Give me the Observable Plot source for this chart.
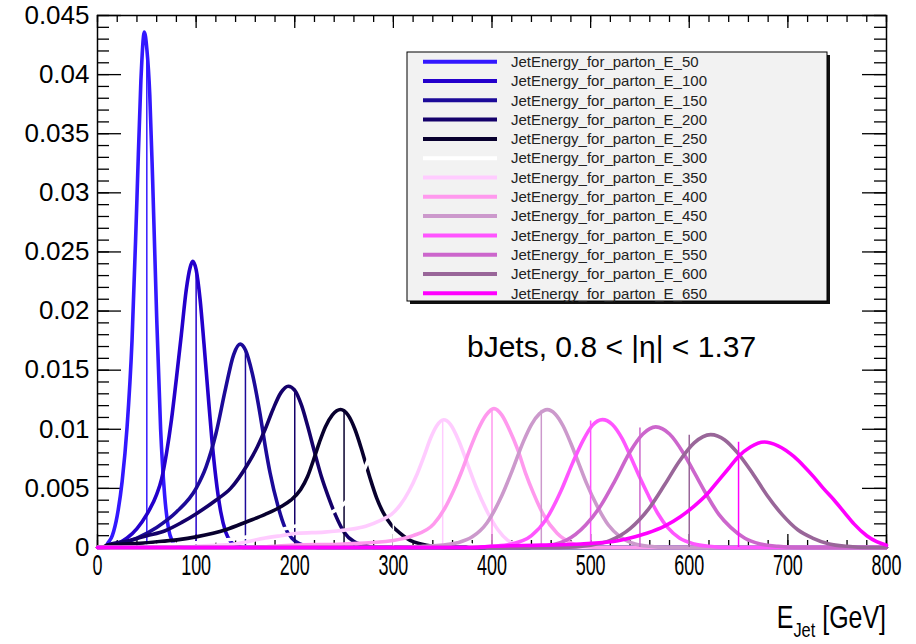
<!DOCTYPE html>
<html><head><meta charset="utf-8">
<script src="https://cdn.jsdelivr.net/npm/d3@7"></script>
<script src="https://cdn.jsdelivr.net/npm/@observablehq/plot@0.6"></script>
<style>
html,body{margin:0;padding:0;background:#fff;}
#wrap{position:relative;width:916px;height:644px;overflow:hidden;}
#wrap svg{display:block;}
</style></head><body>
<div id="wrap"></div>
<script>
// ---------- data ----------
const energies = [50,100,150,200,250,300,350,400,450,500,550,600,650];
const seriesNames = energies.map(e => "JetEnergy_for_parton_E_" + e);
const colors = ["#3318ff","#2400cc","#1c0a99","#14006a","#08002e","#ffffff","#ffccff","#ff99ee","#cc99cc","#ff55ff","#cc66cc","#996699","#ff00ff"];
// height reached by the thin vertical marker line at each parton energy
const lineTops = [0.0422,0.0235,0.0167,0.0134,0.0115,0.0104,0.0108,0.0117,0.0116,0.0107,0.0101,0.0095,0.0089];

const E50 = [[0,0],[8,0],[10,0.0003],[15,0.0010],[20,0.0027],[25,0.0056],[30,0.0102],[35,0.0175],[40,0.0295],[44,0.0395],[47.5,0.0436],[50,0.0422],[53,0.0383],[56,0.0308],[60,0.0195],[64,0.0100],[68,0.0045],[72,0.0016],[76,0.0005],[80,0.0001],[88,0],[800,0]];
const E100 = [[0,0],[12,0],[20,0.0003],[30,0.0008],[40,0.0016],[50,0.0028],[60,0.0045],[65,0.0058],[70,0.0080],[75,0.0108],[80,0.0143],[85,0.0180],[90,0.0218],[94,0.0237],[96.5,0.0242],[100,0.0235],[104,0.0210],[108,0.0172],[112,0.0131],[116,0.0091],[120,0.0059],[125,0.0030],[130,0.0013],[135,0.0005],[140,0.0002],[148,0],[800,0]];
const E150 = [[0,0],[10,0],[20,0.0002],[40,0.0008],[60,0.0017],[80,0.0030],[100,0.0050],[110,0.0068],[120,0.0096],[130,0.0135],[138,0.0163],[144.7,0.0172],[150,0.0167],[157,0.0147],[165,0.0112],[170,0.0086],[175,0.0063],[183,0.0035],[190,0.0017],[197,0.0008],[205,0.0003],[215,0.0001],[225,0],[800,0]];
const E200 = [[0,0],[5,0],[10,0.0002],[33,0.0006],[50,0.0010],[68,0.0014],[85,0.0021],[101,0.0029],[120,0.0040],[135,0.0050],[152,0.0070],[162,0.0085],[170,0.0100],[178,0.0117],[186,0.0131],[193.4,0.01364],[200,0.0133],[207,0.0120],[213,0.0103],[220,0.0081],[227,0.0060],[234,0.0043],[241,0.0028],[250,0.0013],[260,0.0005],[270,0.0002],[280,0],[800,0]];
const E250 = [[0,0],[5,0],[10,0.0002],[50,0.0004],[100,0.0009],[130,0.0015],[152,0.0022],[170,0.0028],[185,0.0034],[196,0.0040],[206,0.0049],[213,0.0060],[219,0.0074],[225,0.0089],[231,0.0102],[238,0.0112],[246.5,0.01167],[254,0.0112],[261,0.0100],[267,0.0085],[272,0.0071],[277,0.0057],[283,0.0042],[290,0.0029],[298,0.0019],[307,0.0012],[317,0.0006],[328,0.0003],[340,0.0001],[355,0],[800,0]];
const E300 = [[0,0],[40,0],[50,0.0001],[100,0.0004],[145,0.0008],[195,0.0017],[220,0.0022],[236,0.0029],[250,0.0037],[262,0.0050],[272,0.0069],[280,0.0085],[290,0.0100],[298,0.0105],[306,0.0101],[316,0.0087],[326,0.0066],[336,0.0044],[346,0.0026],[356,0.0014],[368,0.0006],[380,0.0002],[395,0],[800,0]];
const E350 = [[0,0],[90,0],[100,0.0001],[139,0.0003],[170,0.0008],[186,0.0010],[203,0.0012],[230,0.0013],[253,0.0015],[272,0.0018],[287,0.0023],[298,0.0028],[307,0.0036],[316,0.0048],[324,0.0062],[331,0.0077],[338,0.0093],[344,0.0103],[351,0.0108],[358,0.0104],[366,0.0091],[375,0.0071],[384,0.0051],[396,0.0029],[406,0.0015],[416,0.0006],[428,0.0002],[440,0],[800,0]];
const E400 = [[0,0],[150,0],[200,0.0002],[250,0.0003],[300,0.0006],[320,0.0010],[341,0.0020],[352,0.0033],[361,0.0048],[370,0.0066],[378,0.0084],[386,0.0100],[394,0.0112],[402,0.01175],[410,0.0112],[418,0.0099],[426,0.0083],[434,0.0063],[442,0.0046],[452,0.0028],[466,0.0012],[480,0.0004],[495,0.0001],[510,0],[800,0]];
const E450 = [[0,0],[300,0],[330,0.0001],[350,0.0002],[365,0.0004],[380,0.0009],[395,0.0021],[410,0.0044],[420,0.0064],[432,0.0090],[440,0.0104],[448,0.0113],[456,0.01166],[464,0.0113],[472,0.0103],[480,0.0088],[488,0.0071],[496,0.0054],[506,0.0036],[518,0.0019],[530,0.0009],[545,0.0003],[560,0.0001],[575,0],[800,0]];
const E500 = [[0,0],[380,0],[400,0.0001],[420,0.0003],[440,0.0010],[455,0.0024],[470,0.0048],[482,0.0072],[492,0.0090],[502,0.01035],[512,0.01082],[522,0.0104],[532,0.0092],[541,0.0076],[550,0.0059],[558,0.0045],[568,0.0029],[578,0.0017],[590,0.0008],[605,0.0003],[620,0.0001],[640,0],[800,0]];
const E550 = [[0,0],[420,0],[450,0.0001],[475,0.0006],[495,0.0019],[510,0.0035],[525,0.0057],[540,0.0081],[553,0.0096],[566,0.0102],[580,0.0096],[594,0.0080],[606,0.0062],[618,0.0044],[630,0.0028],[642,0.0017],[656,0.0008],[672,0.0003],[690,0.0001],[710,0],[800,0]];
const E600 = [[0,0],[470,0],[500,0.0002],[520,0.0006],[540,0.0016],[560,0.0034],[575,0.0053],[590,0.0073],[605,0.00885],[621.7,0.00955],[636,0.0091],[649,0.0080],[664,0.0063],[679,0.0044],[694,0.0028],[710,0.0015],[725,0.0008],[742,0.0003],[760,0.0001],[780,0],[800,0]];
const E650 = [[0,0],[380,0],[400,0.0001],[450,0.0002],[490,0.0003],[523,0.0005],[540,0.0008],[557,0.0012],[575,0.0018],[591,0.0026],[605,0.0035],[618,0.0045],[630,0.0057],[641,0.0068],[650,0.0077],[662,0.0085],[676,0.00892],[690,0.0086],[706,0.0077],[716,0.0069],[726,0.0060],[736,0.0050],[747,0.0040],[757,0.0030],[767,0.0020],[780,0.0010],[790,0.0005],[800,0.0002]];
const curves = [E50,E100,E150,E200,E250,E300,E350,E400,E450,E500,E550,E600,E650];

const xTicks = [0,100,200,300,400,500,600,700,800];
const yTicks = [0,0.005,0.01,0.015,0.02,0.025,0.03,0.035,0.04,0.045];
const xMinor = d3.range(0, 41).map(i => i * 20);
const yMinor = d3.range(0, 46).map(i => i / 1000);
const annotation = "bJets, 0.8 < |η| < 1.37";

// ---------- layout ----------
const FONT = "'Liberation Sans', Arial, Helvetica, sans-serif";
const W = 916, H = 644, mL = 97, mR = 30, mT = 15, mB = 97;
const PW = W - mL - mR, PH = H - mT - mB;

const marks = [
  Plot.frame({stroke: "#000", strokeWidth: 1.5}),
  // inward ticks, all four sides
  Plot.tickY(yMinor, {y: d => d, insetRight: PW - 12, stroke: "#000", strokeWidth: 1.3}),
  Plot.tickY(yTicks, {y: d => d, insetRight: PW - 24, stroke: "#000", strokeWidth: 1.3}),
  Plot.tickY(yMinor, {y: d => d, insetLeft: PW - 12, stroke: "#000", strokeWidth: 1.3}),
  Plot.tickY(yTicks, {y: d => d, insetLeft: PW - 24, stroke: "#000", strokeWidth: 1.3}),
  Plot.tickX(xMinor, {x: d => d, insetTop: PH - 7, stroke: "#000", strokeWidth: 1.3}),
  Plot.tickX(xTicks, {x: d => d, insetTop: PH - 13, stroke: "#000", strokeWidth: 1.3}),
  Plot.tickX(xMinor, {x: d => d, insetBottom: PH - 7, stroke: "#000", strokeWidth: 1.3}),
  Plot.tickX(xTicks, {x: d => d, insetBottom: PH - 13, stroke: "#000", strokeWidth: 1.3}),
  Plot.axisY(yTicks, {tickSize: 0, tickPadding: 8, fontSize: 26, tickFormat: d => String(d), label: null}),
  Plot.axisX(xTicks, {tickSize: 0, tickPadding: 7, fontSize: 29, tickFormat: d => String(d), label: null})
];
curves.forEach((pts, i) => {
  marks.push(Plot.line(pts, {x: d => d[0], y: d => d[1], stroke: colors[i], strokeWidth: 3.6, curve: "monotone-x"}));
  marks.push(Plot.ruleX([{e: energies[i], top: lineTops[i]}], {x: "e", y1: () => 0, y2: "top", stroke: colors[i], strokeWidth: 1.5}));
});

const chart = Plot.plot({
  width: W, height: H,
  marginLeft: mL, marginRight: mR, marginTop: mT, marginBottom: mB,
  x: {domain: [0, 800]},
  y: {domain: [0, 0.045]},
  style: {fontFamily: FONT, color: "#000", background: "#fff", overflow: "visible"},
  marks
});
const wrap = document.getElementById("wrap");
wrap.appendChild(chart);

const svg = d3.select(chart);
// condensed x tick labels as in the reference
svg.selectAll('g[aria-label="x-axis tick label"] text').each(function() {
  const t = this.getAttribute("transform") || "";
  this.setAttribute("transform", t + " scale(0.62,1)");
});

// annotation
svg.append("text")
  .attr("x", 467).attr("y", 357)
  .attr("text-anchor", "start")
  .attr("font-family", FONT).attr("font-size", 30).attr("fill", "#000")
  .text(annotation);

// x axis title E_Jet [GeV]
const xt = svg.append("text")
  .attr("transform", `translate(${W - mR},628) scale(0.78,1)`)
  .attr("text-anchor", "end")
  .attr("font-family", FONT).attr("font-size", 32).attr("fill", "#000");
xt.append("tspan").text("E");
xt.append("tspan").attr("font-size", 21).attr("dy", 9).text("Jet");
xt.append("tspan").attr("dy", -9).text(" [GeV]");

// ---------- legend ----------
const L = {x: 407, y: 52, w: 420, h: 249, rowTop: 61.7, rowStep: 19.3, lx1: 423, lx2: 497, tx: 511};
const lg = svg.append("g").attr("class", "legend").attr("text-anchor", "start");
lg.append("rect").attr("x", L.x + 3).attr("y", L.y + 3).attr("width", L.w).attr("height", L.h).attr("fill", "#111");
lg.append("rect").attr("x", L.x).attr("y", L.y).attr("width", L.w).attr("height", L.h).attr("fill", "#f2f2f2").attr("stroke", "#000").attr("stroke-width", 1);
seriesNames.forEach((name, i) => {
  const cy = L.rowTop + i * L.rowStep;
  lg.append("line").attr("x1", L.lx1).attr("x2", L.lx2).attr("y1", cy).attr("y2", cy)
    .attr("stroke", colors[i]).attr("stroke-width", 4);
  lg.append("text").attr("x", L.tx).attr("y", cy + 5.2)
    .attr("text-anchor", "start")
    .attr("font-family", FONT).attr("font-size", 15).attr("fill", "#222").text(name);
});
</script>
</body></html>
